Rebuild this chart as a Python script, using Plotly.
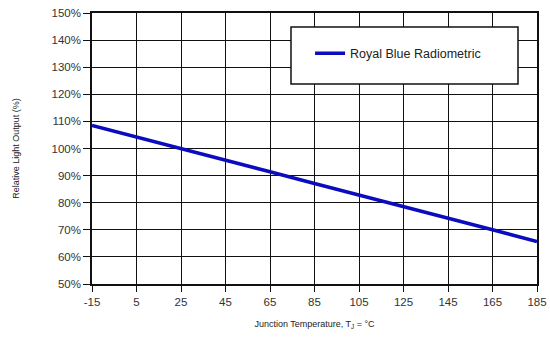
import plotly.graph_objects as go

temps = [-15, 5, 25, 45, 65, 85, 105, 125, 145, 165, 185]
light_output = [108.5, 104.3, 100.0, 95.7, 91.4, 87.1, 82.9, 78.6, 74.3, 70.0, 65.7]
x_ticks = [-15, 5, 25, 45, 65, 85, 105, 125, 145, 165, 185]
y_ticks = [50, 60, 70, 80, 90, 100, 110, 120, 130, 140, 150]
y_labels = [f"{v}%" for v in y_ticks]
series_name = "Royal Blue Radiometric"

fig = go.Figure()
fig.add_trace(go.Scatter(
    x=temps, y=light_output, mode="lines", name=series_name,
    line=dict(color="#0c0cbe", width=3.5),
))

fig.update_layout(
    width=550, height=341,
    margin=dict(l=92, r=13, t=13, b=57, autoexpand=False),
    paper_bgcolor="white", plot_bgcolor="white",
    font=dict(family="Liberation Sans, Arial, sans-serif", color="#333333"),
    showlegend=True,
    legend=dict(
        x=0.49, y=0.905, xanchor="left", yanchor="top",
        bgcolor="rgba(0,0,0,0)", borderwidth=0,
        font=dict(size=12.5, color="#222222"),
        itemwidth=30,
    ),
    xaxis=dict(
        range=[-15, 185], tickvals=x_ticks, ticktext=[str(t) for t in x_ticks],
        showgrid=True, gridcolor="#111111", gridwidth=1.2,
        showline=True, linecolor="#111111", linewidth=1.5,
        ticks="outside", ticklen=6, tickcolor="#111111",
        tickfont=dict(size=11.5, color="#333333"),
        zeroline=False, automargin=False,
        title=dict(text="Junction Temperature, T<sub>J</sub> = °C",
                   font=dict(size=9, color="#222222"), standoff=14),
        mirror=True,
    ),
    yaxis=dict(
        range=[50, 150], tickvals=y_ticks, ticktext=y_labels,
        showgrid=True, gridcolor="#111111", gridwidth=1.2,
        showline=True, linecolor="#111111", linewidth=1.5,
        ticks="outside", ticklen=7, tickcolor="#111111",
        tickfont=dict(size=11.5, color="#333333"),
        zeroline=False, automargin=False,
        title=dict(text="Relative Light Output (%)",
                   font=dict(size=9, color="#222222"), standoff=30),
        mirror=True,
    ),
)

# legend box
fig.add_shape(type="rect", xref="paper", yref="paper",
              x0=(291-92)/445, x1=(518-92)/445,
              y0=(284-84)/271, y1=(284-27)/271,
              line=dict(color="#111111", width=1.5), fillcolor="white", layer="above")

fig.write_html("out.html")
